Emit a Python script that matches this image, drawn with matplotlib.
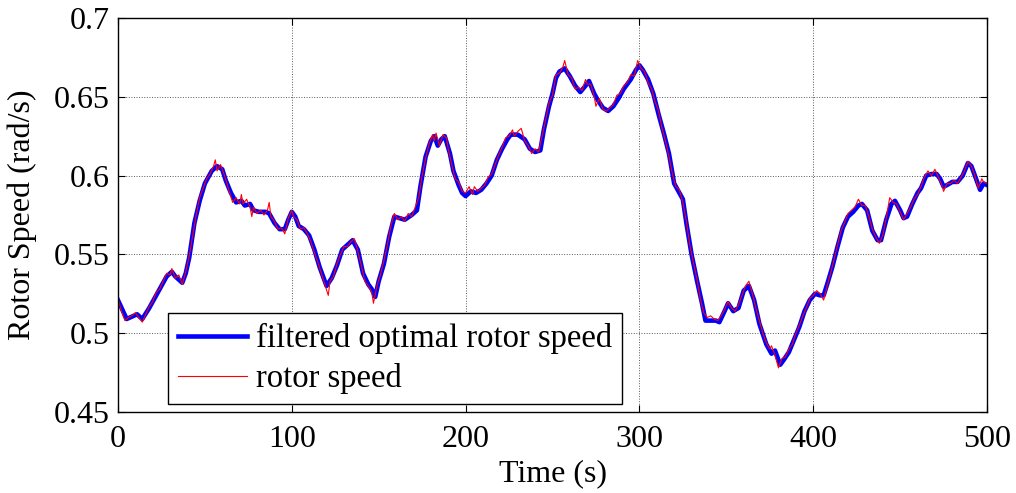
import matplotlib.pyplot as plt

plt.rcParams["font.family"] = ["Liberation Serif", "DejaVu Serif"]

# filtered optimal rotor speed (blue)
filt_time = [0, 5, 11, 14, 18, 22, 25, 28, 31, 33, 37, 39, 41, 44, 47, 50, 54, 57, 60, 62,
             65, 68, 71, 73, 76, 78, 81, 85, 87, 90, 93, 96, 98, 100, 102, 104, 107, 110, 113, 116,
             120, 123, 126, 129, 132, 135, 138, 141, 144, 146, 148, 150, 153, 156, 159, 162, 165, 169, 172, 174,
             177, 180, 182, 184, 186, 188, 191, 193, 196, 198, 200, 203, 206, 209, 212, 215, 218, 221, 224, 226,
             230, 234, 237, 240, 243, 245, 248, 250, 252, 254, 257, 260, 263, 266, 269, 271, 274, 276, 279, 282,
             285, 288, 291, 295, 298, 300, 302, 305, 308, 311, 314, 317, 320, 323, 325, 327, 330, 333, 336, 338,
             341, 344, 346, 349, 351, 354, 357, 360, 363, 366, 369, 373, 376, 378, 381, 383, 386, 389, 392, 395,
             398, 401, 404, 406, 408, 411, 414, 417, 420, 423, 426, 428, 431, 434, 437, 439, 442, 445, 447, 450,
             452, 454, 457, 460, 462, 465, 468, 471, 473, 475, 477, 480, 483, 486, 489, 491, 494, 496, 498, 500]
filt_speed = [0.521, 0.509, 0.512, 0.509, 0.516, 0.524, 0.530, 0.536, 0.539, 0.536, 0.532, 0.538, 0.548, 0.570, 0.584, 0.595, 0.603, 0.606, 0.604, 0.597,
              0.589, 0.583, 0.584, 0.581, 0.582, 0.578, 0.577, 0.577, 0.576, 0.570, 0.566, 0.566, 0.572, 0.577, 0.574, 0.568, 0.566, 0.562, 0.553, 0.542,
              0.530, 0.535, 0.543, 0.553, 0.556, 0.559, 0.553, 0.538, 0.531, 0.528, 0.523, 0.533, 0.544, 0.561, 0.574, 0.573, 0.572, 0.575, 0.578, 0.593,
              0.612, 0.622, 0.625, 0.619, 0.623, 0.625, 0.614, 0.603, 0.594, 0.589, 0.587, 0.590, 0.589, 0.591, 0.595, 0.600, 0.610, 0.617, 0.623, 0.626,
              0.626, 0.623, 0.617, 0.615, 0.616, 0.629, 0.644, 0.652, 0.662, 0.666, 0.668, 0.663, 0.657, 0.653, 0.657, 0.660, 0.652, 0.648, 0.643, 0.641,
              0.644, 0.649, 0.655, 0.661, 0.667, 0.670, 0.667, 0.661, 0.652, 0.639, 0.627, 0.614, 0.595, 0.589, 0.585, 0.570, 0.550, 0.534, 0.519, 0.508,
              0.508, 0.508, 0.507, 0.514, 0.519, 0.514, 0.516, 0.527, 0.530, 0.521, 0.506, 0.493, 0.487, 0.489, 0.480, 0.483, 0.488, 0.496, 0.504, 0.514,
              0.521, 0.525, 0.524, 0.524, 0.531, 0.542, 0.555, 0.567, 0.574, 0.577, 0.581, 0.582, 0.578, 0.565, 0.559, 0.559, 0.572, 0.582, 0.584, 0.578,
              0.573, 0.574, 0.582, 0.589, 0.592, 0.600, 0.601, 0.601, 0.598, 0.593, 0.594, 0.596, 0.596, 0.600, 0.608, 0.606, 0.597, 0.591, 0.595, 0.594]

# measured rotor speed (red), noisier
rotor_time = [0, 2, 4, 6, 8, 10, 12, 14, 16, 18, 20, 22, 24, 26, 28, 30, 31, 33, 35, 37,
              39, 41, 43, 45, 47, 49, 51, 53, 55, 56, 57, 59, 61, 63, 64, 66, 68, 70, 71, 72,
              74, 76, 77, 78, 80, 82, 84, 86, 87, 88, 90, 92, 94, 96, 98, 100, 101, 103, 105, 107,
              109, 111, 113, 115, 117, 119, 121, 122, 124, 126, 128, 130, 132, 134, 136, 138, 140, 142, 144, 146,
              147, 149, 151, 153, 155, 157, 159, 161, 163, 165, 167, 169, 171, 173, 175, 177, 179, 181, 182, 183,
              185, 187, 189, 190, 192, 194, 196, 198, 200, 202, 204, 205, 207, 209, 211, 213, 215, 217, 219, 221,
              223, 225, 227, 228, 230, 232, 234, 236, 238, 240, 242, 244, 246, 248, 250, 252, 254, 256, 257, 259,
              261, 263, 265, 267, 269, 270, 272, 274, 275, 277, 279, 281, 283, 285, 287, 289, 291, 293, 295, 297,
              299, 301, 303, 305, 307, 309, 311, 313, 315, 317, 319, 321, 323, 325, 327, 329, 331, 333, 335, 337,
              339, 341, 343, 345, 347, 349, 351, 353, 355, 357, 359, 361, 363, 365, 367, 369, 371, 373, 375, 376,
              378, 380, 382, 384, 386, 388, 390, 392, 394, 396, 398, 400, 402, 404, 406, 408, 410, 412, 414, 416,
              418, 420, 422, 424, 426, 428, 430, 432, 434, 436, 438, 440, 442, 444, 446, 448, 450, 452, 454, 456,
              458, 460, 462, 464, 466, 468, 470, 472, 474, 475, 477, 479, 481, 483, 485, 487, 489, 491, 493, 495,
              497, 498, 500]
rotor_speed = [0.522, 0.514, 0.508, 0.510, 0.511, 0.513, 0.510, 0.507, 0.512, 0.517, 0.520, 0.526, 0.528, 0.533, 0.538, 0.537, 0.541, 0.535, 0.537, 0.531,
               0.539, 0.549, 0.562, 0.575, 0.586, 0.592, 0.598, 0.601, 0.606, 0.610, 0.603, 0.607, 0.601, 0.594, 0.590, 0.583, 0.586, 0.582, 0.588, 0.582,
               0.585, 0.580, 0.574, 0.580, 0.576, 0.578, 0.575, 0.578, 0.583, 0.574, 0.571, 0.566, 0.567, 0.563, 0.573, 0.578, 0.574, 0.572, 0.566, 0.567,
               0.563, 0.558, 0.551, 0.545, 0.538, 0.531, 0.524, 0.533, 0.536, 0.544, 0.550, 0.555, 0.555, 0.558, 0.560, 0.552, 0.543, 0.533, 0.530, 0.526,
               0.519, 0.530, 0.537, 0.546, 0.556, 0.568, 0.576, 0.572, 0.574, 0.571, 0.576, 0.574, 0.580, 0.586, 0.600, 0.611, 0.620, 0.626, 0.622, 0.627,
               0.619, 0.626, 0.624, 0.617, 0.607, 0.598, 0.596, 0.590, 0.589, 0.593, 0.588, 0.593, 0.590, 0.592, 0.594, 0.599, 0.601, 0.607, 0.613, 0.618,
               0.624, 0.625, 0.629, 0.625, 0.628, 0.630, 0.622, 0.619, 0.614, 0.617, 0.615, 0.625, 0.635, 0.646, 0.651, 0.664, 0.665, 0.669, 0.673, 0.664,
               0.662, 0.655, 0.656, 0.654, 0.661, 0.658, 0.658, 0.650, 0.644, 0.649, 0.642, 0.641, 0.643, 0.645, 0.651, 0.652, 0.657, 0.659, 0.664, 0.663,
               0.673, 0.668, 0.666, 0.659, 0.655, 0.647, 0.641, 0.630, 0.622, 0.612, 0.601, 0.593, 0.591, 0.583, 0.571, 0.556, 0.545, 0.535, 0.522, 0.513,
               0.510, 0.511, 0.509, 0.508, 0.511, 0.515, 0.520, 0.516, 0.514, 0.518, 0.524, 0.530, 0.533, 0.525, 0.516, 0.508, 0.500, 0.494, 0.490, 0.492,
               0.486, 0.478, 0.484, 0.485, 0.490, 0.493, 0.500, 0.505, 0.511, 0.516, 0.522, 0.524, 0.527, 0.525, 0.521, 0.530, 0.538, 0.547, 0.556, 0.565,
               0.570, 0.576, 0.578, 0.580, 0.585, 0.581, 0.581, 0.574, 0.566, 0.561, 0.557, 0.562, 0.573, 0.586, 0.583, 0.582, 0.577, 0.572, 0.576, 0.580,
               0.585, 0.588, 0.593, 0.599, 0.603, 0.600, 0.604, 0.599, 0.594, 0.590, 0.595, 0.595, 0.597, 0.595, 0.599, 0.603, 0.609, 0.606, 0.600, 0.592,
               0.598, 0.596, 0.595]

x_ticks = [0, 100, 200, 300, 400, 500]
y_ticks = [0.45, 0.5, 0.55, 0.6, 0.65, 0.7]
y_labels = ["0.45", "0.5", "0.55", "0.6", "0.65", "0.7"]

fig = plt.figure(figsize=(10.16, 4.93), dpi=100)
ax = fig.add_axes([0.1161, 0.1643, 0.8554, 0.7992])

ax.plot(filt_time, filt_speed, color="#0000ff", lw=3.3, label="filtered optimal rotor speed")
ax.plot(rotor_time, rotor_speed, color="#ff0000", lw=0.8, label="rotor speed")

ax.set_xlim(0, 500)
ax.set_ylim(0.45, 0.7)
ax.set_xticks(x_ticks)
ax.set_yticks(y_ticks)
ax.set_yticklabels(y_labels)
ax.tick_params(direction="in", top=True, right=True, length=5, width=0.8,
               labelsize=23)
ax.tick_params(axis="x", pad=9)
ax.tick_params(axis="y", pad=6)
ax.grid(True, color="0.35", linestyle=":", linewidth=0.7)
for s in ax.spines.values():
    s.set_linewidth(1.0)

ax.set_xlabel("Time (s)", fontsize=23, labelpad=4)
ax.set_ylabel("Rotor Speed (rad/s)", fontsize=23, labelpad=12)

leg = ax.legend(loc="lower left", bbox_to_anchor=(0.058, 0.02), fontsize=23.5,
                handlelength=2.1, handletextpad=0.3, borderpad=0.3, labelspacing=0.28,
                borderaxespad=0, fancybox=False, framealpha=1, edgecolor="black")
leg.get_frame().set_linewidth(1.0)

plt.savefig("out.png", dpi=100)
